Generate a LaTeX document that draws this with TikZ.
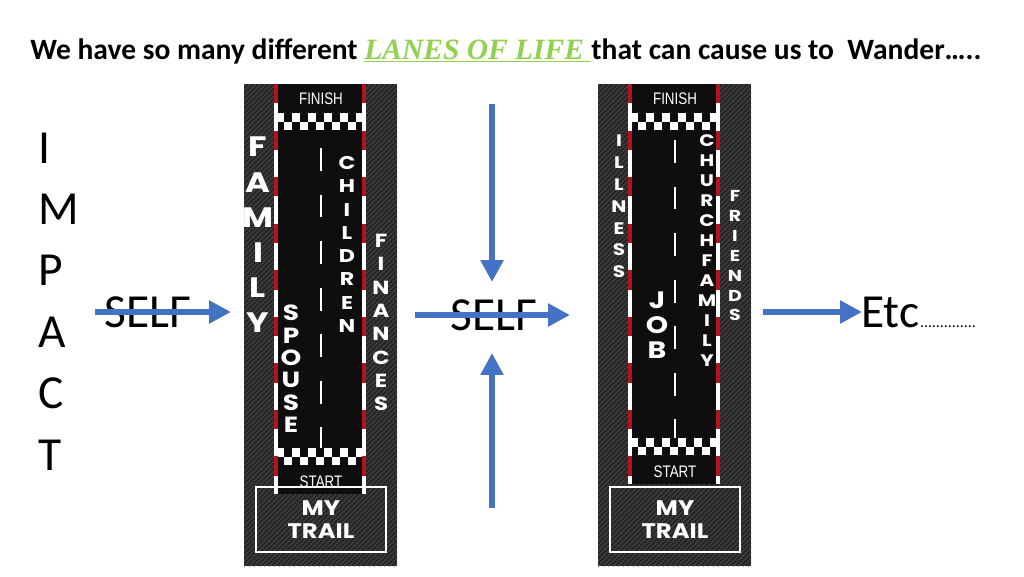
\documentclass[tikz,border=0pt]{standalone}
\usepackage{fontspec}
\setmainfont{Carlito}
\newfontfamily\lanefont{Poppins}
\newfontfamily\signfont{Liberation Sans}
\newfontfamily\fancyfont{Liberation Serif}
\usetikzlibrary{arrows.meta}

\definecolor{arrowblue}{HTML}{4472C4}
\definecolor{lanegreen}{HTML}{92D050}
\definecolor{kerbred}{HTML}{B3141B}
\definecolor{panelgrey}{HTML}{242424}
\definecolor{stripegrey}{HTML}{3E3E3E}
\definecolor{asphalt}{HTML}{0E0E0E}

\tikzset{
  selfarrow/.style={draw=arrowblue, line width=3.6pt, -{Triangle[length=12.5pt,width=12.5pt]}},
  bigword/.style={inner sep=0pt, font=\fontsize{27}{30}\selectfont},
  signtext/.style={text=white, inner sep=0pt, xscale=0.8, font=\signfont\fontsize{9.5}{10}\selectfont},
  trailtext/.style={text=white, inner sep=0pt, xscale=1.15, font=\lanefont\bfseries\fontsize{12}{12}\selectfont},
}

% one vertical word: name, x, first y, step, size, letters
\newcommand{\laneword}[6]{%
  \foreach \ch [count=\i from 0] in {#6}
    \node[text=white, inner sep=0pt, xscale=1.2, font=\lanefont\bfseries\fontsize{#5}{#5}\selectfont]
      (#1\i) at (#2,{#3+\i*#4}) {\ch};
}

% one track panel: left x, top of lower checker, first dash y, name
\newcommand{\lanepanel}[4]{%
  \begin{scope}[shift={(#1,0)}]
    \fill[panelgrey] (0,84) rectangle (153,566);
    \begin{scope}
      \clip (0,84) rectangle (153,566);
      \foreach \k in {-490,-485,...,155}
        \draw[stripegrey, line width=0.8pt] (\k,566) -- ++(482,-482);
    \end{scope}
    \fill[asphalt] (32,84) rectangle (120,{#2+46});
    % checkers
    \foreach \c in {0,...,10} {
      \pgfmathtruncatemacro\r{mod(\c,2)}
      \fill[white] ({32+\c*8},{113+\r*8.5}) rectangle ++(8,8.5);
      \fill[white] ({32+\c*8},{#2+\r*8.5}) rectangle ++(8,8.5);
    }
    % centre line
    \draw[white, line width=1.1pt, dash pattern=on 13pt off 13.5pt] (77,#3) -- (77,#2);
    % kerbs
    \foreach \xk in {32,120} {
      \draw[white, line width=1.8pt] (\xk,84) -- (\xk,{#2+46});
      \draw[kerbred, line width=1.8pt, dash pattern=on 11pt off 15.5pt] (\xk,84) -- (\xk,{#2+46});
    }
    \node[signtext] (#4finish) at (77,99) {FINISH};
    \node[signtext] (#4start) at (77,{#2+34}) {START};
    \draw[white, line width=1.2pt] (12,487) rectangle (142,552);
    \node[trailtext] (#4my) at (77,508) {MY};
    \node[trailtext] (#4trail) at (77,531) {TRAIL};
  \end{scope}
}

\begin{document}
\begin{tikzpicture}[x=0.02cm, y=-0.02cm]
  \useasboundingbox (0,0) rectangle (1024,576);
  \fill[white] (0,0) rectangle (1024,576);

  % title
  \node[anchor=base west, inner sep=0pt, font=\bfseries\fontsize{16.8}{18}\selectfont] (title) at (30,59)
    {We have so many different {\color{lanegreen}\fancyfont\bfseries\itshape\underline{LANES OF LIFE\ }}that can cause us to\ \ Wander…..};

  % impact
  \foreach \ch [count=\i from 0] in {I,M,P,A,C,T}
    \node[bigword, anchor=base west] (impact\i) at (38,{163+\i*61.4}) {\ch};

  % the two tracks
  \lanepanel{244}{448}{148}{left}
  \lanepanel{598}{438}{140}{right}

  \laneword{family}{258}{147}{35.2}{16}{F,A,M,I,L,Y}
  \laneword{children}{347}{163}{23.3}{10.5}{C,H,I,L,D,R,E,N}
  \laneword{spouse}{291}{313}{22.4}{12.5}{S,P,O,U,S,E}
  \laneword{finances}{381}{241}{23.3}{10.8}{F,I,N,A,N,C,E,S}
  \laneword{illness}{619}{141}{21.8}{9.5}{I,L,L,N,E,S,S}
  \laneword{church}{707}{141}{20}{9.5}{C,H,U,R,C,H,F,A,M,I,L,Y}
  \laneword{friends}{735}{196}{19.9}{9}{F,R,I,E,N,D,S}
  \laneword{job}{657}{300}{25}{13.5}{J,O,B}

  % self labels
  \node[bigword, anchor=base west] (selfA) at (104,327) {SELF};
  \node[bigword, anchor=base west] (selfB) at (450,330) {SELF};
  \node[bigword, anchor=base west] (etc) at (861,327) {Etc};
  \node[anchor=base west, inner sep=0pt, font=\fontsize{9}{10}\selectfont] (etcdots) at (etc.base east) {..............};

  % arrows
  \coordinate (selfAin) at (95,312);
  \coordinate (selfAout) at (231,312);
  \coordinate (selfBin) at (415,315);
  \coordinate (selfBout) at (570,315);
  \coordinate (topin) at (492,104);
  \coordinate (topout) at (492,282);
  \coordinate (botin) at (492,508);
  \coordinate (botout) at (492,353);
  \coordinate (etcin) at (763,312);
  \coordinate (etcout) at (862,312);
  \draw[selfarrow] (selfAin) -- (selfAout);
  \draw[selfarrow] (selfBin) -- (selfBout);
  \draw[selfarrow] (topin) -- (topout);
  \draw[selfarrow] (botin) -- (botout);
  \draw[selfarrow] (etcin) -- (etcout);
\end{tikzpicture}
\end{document}
